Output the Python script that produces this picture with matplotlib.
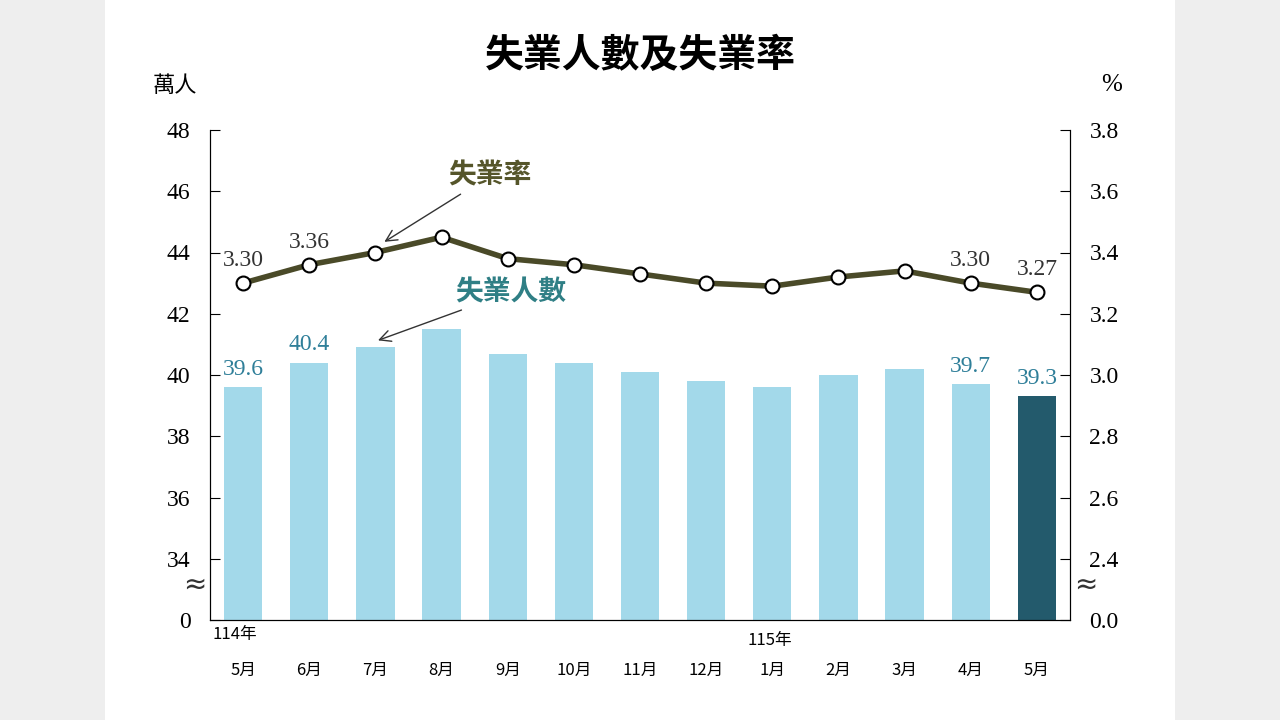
import matplotlib
matplotlib.use('Agg')
import matplotlib.pyplot as plt
from matplotlib.patches import Rectangle

months = ['5月', '6月', '7月', '8月', '9月', '10月', '11月', '12月', '1月', '2月', '3月', '4月', '5月']
unemployed = [39.6, 40.4, 40.9, 41.5, 40.7, 40.4, 40.1, 39.8, 39.6, 40.0, 40.2, 39.7, 39.3]
rate = [3.30, 3.36, 3.40, 3.45, 3.38, 3.36, 3.33, 3.30, 3.29, 3.32, 3.34, 3.30, 3.27]
left_ticks = [32, 34, 36, 38, 40, 42, 44, 46, 48]
left_labels = ['0', '34', '36', '38', '40', '42', '44', '46', '48']
right_ticks = [2.2, 2.4, 2.6, 2.8, 3.0, 3.2, 3.4, 3.6, 3.8]
right_labels = ['0.0', '2.4', '2.6', '2.8', '3.0', '3.2', '3.4', '3.6', '3.8']

CJK = ['Noto Sans CJK TC', 'DejaVu Sans']
SERIF = 'Liberation Serif'
BAR = '#a3d9ea'
BAR_LAST = '#235a6c'
LINE = '#4a4a28'
BLUE_TXT = '#2f7f99'

fig = plt.figure(figsize=(12.8, 7.2), dpi=100)
fig.patch.set_facecolor('#eeeeee')
fig.patches.append(Rectangle((105/1280, 0), 1070/1280, 1, transform=fig.transFigure,
                             facecolor='white', edgecolor='none', zorder=-10))

ax = fig.add_axes([210/1280, 100/720, 860/1280, 490/720])
ax.set_facecolor('none')
x = list(range(len(months)))
colors = [BAR] * (len(months) - 1) + [BAR_LAST]
ax.bar(x, [v - 32 for v in unemployed], bottom=32, width=0.58, color=colors)
ax.set_xlim(-0.5, len(months) - 0.5)
ax.set_ylim(32, 48)
ax.set_yticks(left_ticks)
ax.set_yticklabels(left_labels, fontfamily=SERIF, fontsize=17)
ax.tick_params(axis='y', direction='in', length=7, pad=14)
ax.set_xticks(x)
ax.set_xticklabels(months, fontfamily=CJK, fontsize=12)
ax.tick_params(axis='x', length=0, pad=30)
ax.spines['top'].set_visible(False)

ax2 = ax.twinx()
ax2.set_ylim(2.2, 3.8)
ax2.plot(x, rate, color=LINE, lw=4, marker='o', ms=10, mfc='white', mec='black', mew=1.5, zorder=3)
ax2.set_yticks(right_ticks)
ax2.set_yticklabels(right_labels, fontfamily=SERIF, fontsize=17)
ax2.tick_params(axis='y', direction='in', length=7, pad=14)
ax2.spines['top'].set_visible(False)

# value labels
for i in [0, 1, 11, 12]:
    ax.text(x[i], unemployed[i] + 0.25, f'{unemployed[i]:.1f}', ha='center', va='bottom',
            fontfamily=SERIF, fontsize=17, color=BLUE_TXT)
    ax2.text(x[i], rate[i] + 0.04, f'{rate[i]:.2f}', ha='center', va='bottom',
             fontfamily=SERIF, fontsize=17, color='#333333')

# series annotations
ax2.annotate('失業率', xy=(2.1, 3.43), xytext=(3.1, 3.65), fontfamily=CJK, fontsize=20,
             fontweight='bold', color='#55552a', ha='left', va='center',
             arrowprops=dict(arrowstyle='->', color='#333333', lw=1))
ax.annotate('失業人數', xy=(2.0, 41.1), xytext=(3.2, 42.7), fontfamily=CJK, fontsize=20,
            fontweight='bold', color='#2f7f85', ha='left', va='center',
            arrowprops=dict(arrowstyle='->', color='#333333', lw=1))

# axis break marks
for xf in [210/1280 - 0.012, 1070/1280 + 0.012]:
    fig.text(xf, 1 - 585/720, '≈', ha='center', va='center', fontsize=20, color='#333333')

fig.text(235/1280, 1 - 634/720, '114年', ha='center', va='center', fontfamily=CJK, fontsize=12)
fig.text(770/1280, 1 - 640/720, '115年', ha='center', va='center', fontfamily=CJK, fontsize=12)
fig.text(175/1280, 1 - 85/720, '萬人', ha='center', va='center', fontfamily=CJK, fontsize=16)
fig.text(1112/1280, 1 - 85/720, '%', ha='center', va='center', fontfamily=SERIF, fontsize=18)
fig.text(0.5, 1 - 55/720, '失業人數及失業率', ha='center', va='center', fontfamily=CJK,
         fontsize=28, fontweight='bold')

fig.savefig('out.png', dpi=100, facecolor=fig.get_facecolor())
